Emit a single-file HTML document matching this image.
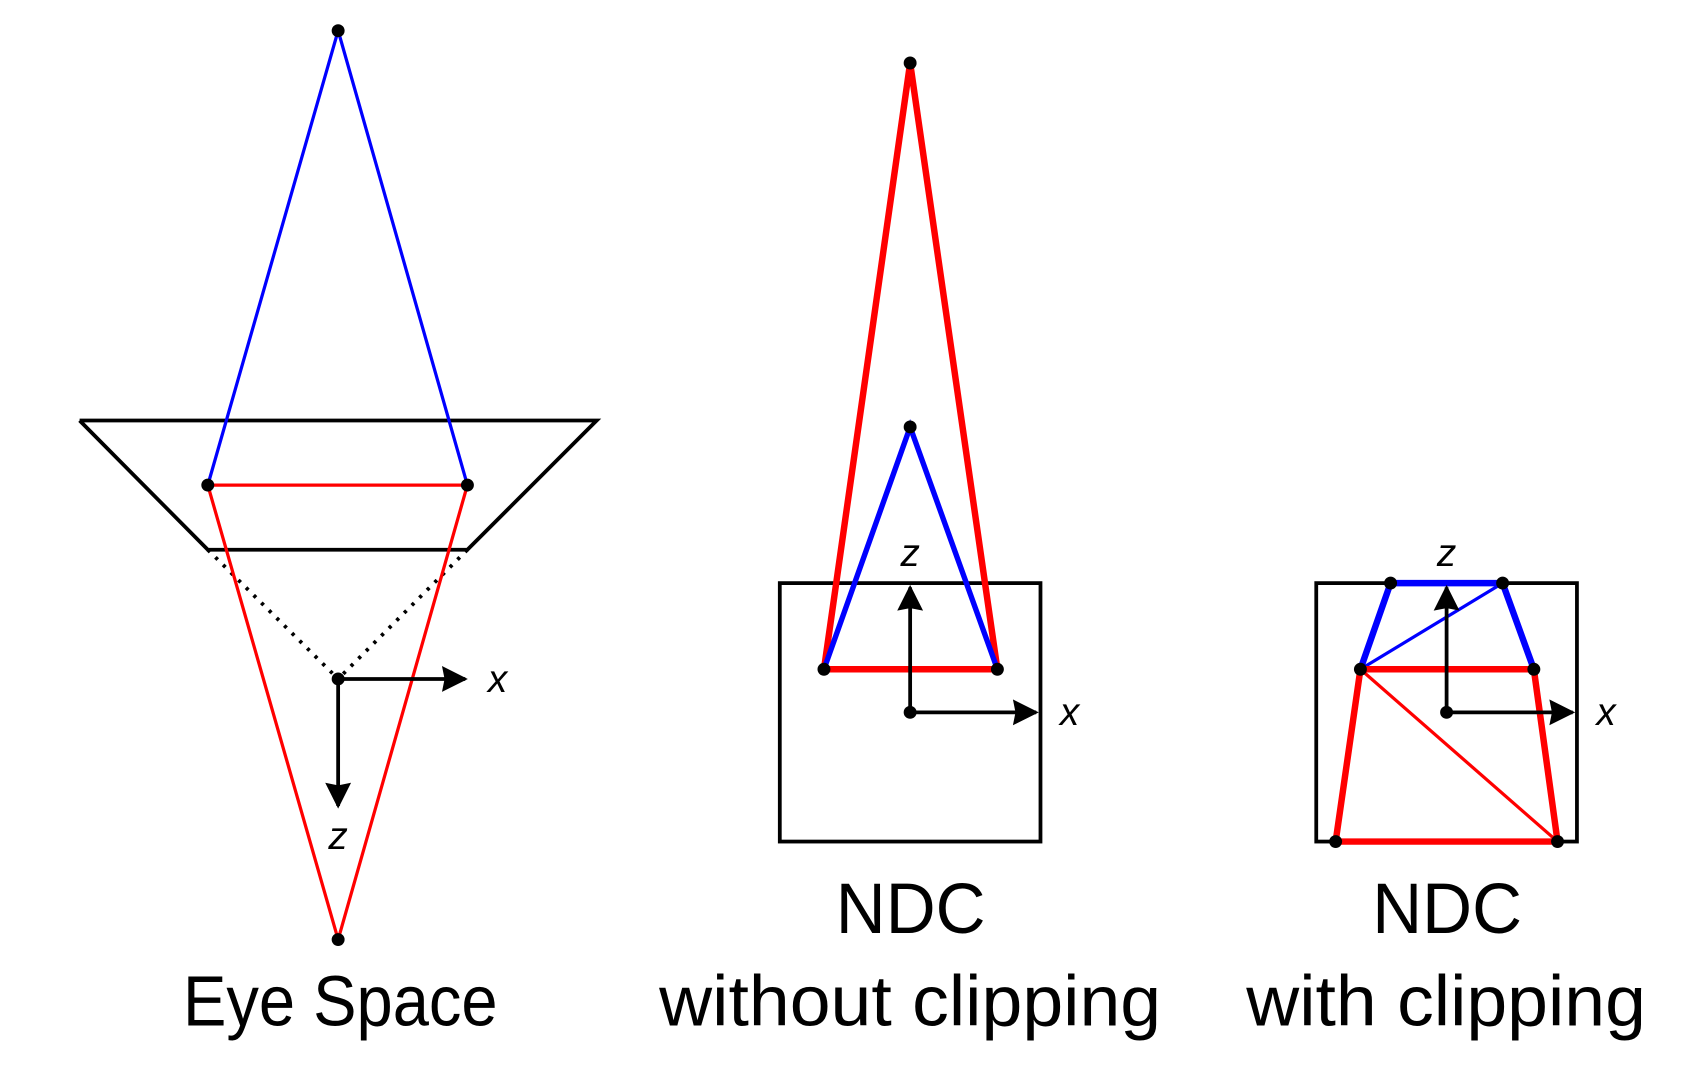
<!DOCTYPE html>
<html><head><style>html,body{margin:0;padding:0;background:#fff;}svg{display:block}</style></head>
<body>
<svg width="1688" height="1065" viewBox="0.1 -0.5 1567 989" preserveAspectRatio="none" xmlns="http://www.w3.org/2000/svg">
<defs>
<marker id="ah2" viewBox="0 0 10 10" refX="9" refY="5" markerWidth="34" markerHeight="24" markerUnits="userSpaceOnUse" orient="auto"><path d="M0,0 L10,5 L0,10 L1,5 Z" fill="#000"/></marker>
</defs>
<g font-family="Liberation Sans, sans-serif" fill="#000">
<!-- Eye space -->
<polyline points="74,390 554,390 434,510 193,510 74,390" fill="none" stroke="#000" stroke-width="3.5"/>
<line x1="193" y1="510" x2="314" y2="630" stroke="#000" stroke-width="3.5" stroke-dasharray="3,7"/>
<line x1="434" y1="510" x2="314" y2="630" stroke="#000" stroke-width="3.5" stroke-dasharray="3,7"/>
<polyline points="193,450 314,28 434,450" fill="none" stroke="#0000ff" stroke-width="3"/>
<polygon points="193,450 434,450 314,872" fill="none" stroke="#ff0000" stroke-width="3"/>
<line x1="314" y1="630" x2="432" y2="630" stroke="#000" stroke-width="3.5" marker-end="url(#ah2)"/>
<line x1="314" y1="630" x2="314" y2="748" stroke="#000" stroke-width="3.5" marker-end="url(#ah2)"/>
<circle cx="314" cy="28" r="6"/><circle cx="193" cy="450" r="6"/><circle cx="434" cy="450" r="6"/><circle cx="314" cy="630" r="6"/><circle cx="314" cy="872" r="6"/>
<text x="462" y="642" font-size="36" font-style="italic" text-anchor="middle">x</text>
<text x="314" y="788" font-size="36" font-style="italic" text-anchor="middle">z</text>
<text x="170" y="952" font-size="66" textLength="292" lengthAdjust="spacingAndGlyphs">Eye Space</text>
<!-- NDC without -->
<rect x="724" y="541" width="242" height="240" fill="none" stroke="#000" stroke-width="3.5"/>
<polygon points="845,58 926,621 765,621" fill="none" stroke="#ff0000" stroke-width="6"/>
<polyline points="765,621 845,396 926,621" fill="none" stroke="#0000ff" stroke-width="5"/>
<line x1="845" y1="661" x2="845" y2="545" stroke="#000" stroke-width="3.5" marker-end="url(#ah2)"/>
<line x1="845" y1="661" x2="962" y2="661" stroke="#000" stroke-width="3.5" marker-end="url(#ah2)"/>
<circle cx="845" cy="58" r="6"/><circle cx="845" cy="396" r="6"/><circle cx="765" cy="621" r="6"/><circle cx="926" cy="621" r="6"/><circle cx="845" cy="661" r="6"/>
<text x="845" y="525" font-size="36" font-style="italic" text-anchor="middle">z</text>
<text x="993" y="673" font-size="36" font-style="italic" text-anchor="middle">x</text>
<text x="776" y="866" font-size="66" textLength="139" lengthAdjust="spacingAndGlyphs">NDC</text>
<text x="612" y="952" font-size="66" textLength="466" lengthAdjust="spacingAndGlyphs">without clipping</text>
<!-- NDC with -->
<rect x="1222" y="541" width="242" height="240" fill="none" stroke="#000" stroke-width="3.5"/>
<polyline points="1263,621 1291,541 1395,541 1424,621" fill="none" stroke="#0000ff" stroke-width="6"/>
<line x1="1263" y1="621" x2="1395" y2="541" stroke="#0000ff" stroke-width="3"/>
<polygon points="1263,621 1424,621 1446,781 1240,781" fill="none" stroke="#ff0000" stroke-width="6"/>
<line x1="1263" y1="621" x2="1446" y2="781" stroke="#ff0000" stroke-width="3"/>
<line x1="1343" y1="661" x2="1343" y2="545" stroke="#000" stroke-width="3.5" marker-end="url(#ah2)"/>
<line x1="1343" y1="661" x2="1460" y2="661" stroke="#000" stroke-width="3.5" marker-end="url(#ah2)"/>
<circle cx="1291" cy="541" r="6"/><circle cx="1395" cy="541" r="6"/><circle cx="1263" cy="621" r="6"/><circle cx="1424" cy="621" r="6"/><circle cx="1240" cy="781" r="6"/><circle cx="1446" cy="781" r="6"/><circle cx="1343" cy="661" r="6"/>
<text x="1343" y="525" font-size="36" font-style="italic" text-anchor="middle">z</text>
<text x="1491" y="673" font-size="36" font-style="italic" text-anchor="middle">x</text>
<text x="1274" y="866" font-size="66" textLength="139" lengthAdjust="spacingAndGlyphs">NDC</text>
<text x="1157" y="952" font-size="66" textLength="371" lengthAdjust="spacingAndGlyphs">with clipping</text>
</g>
</svg>
</body></html>
